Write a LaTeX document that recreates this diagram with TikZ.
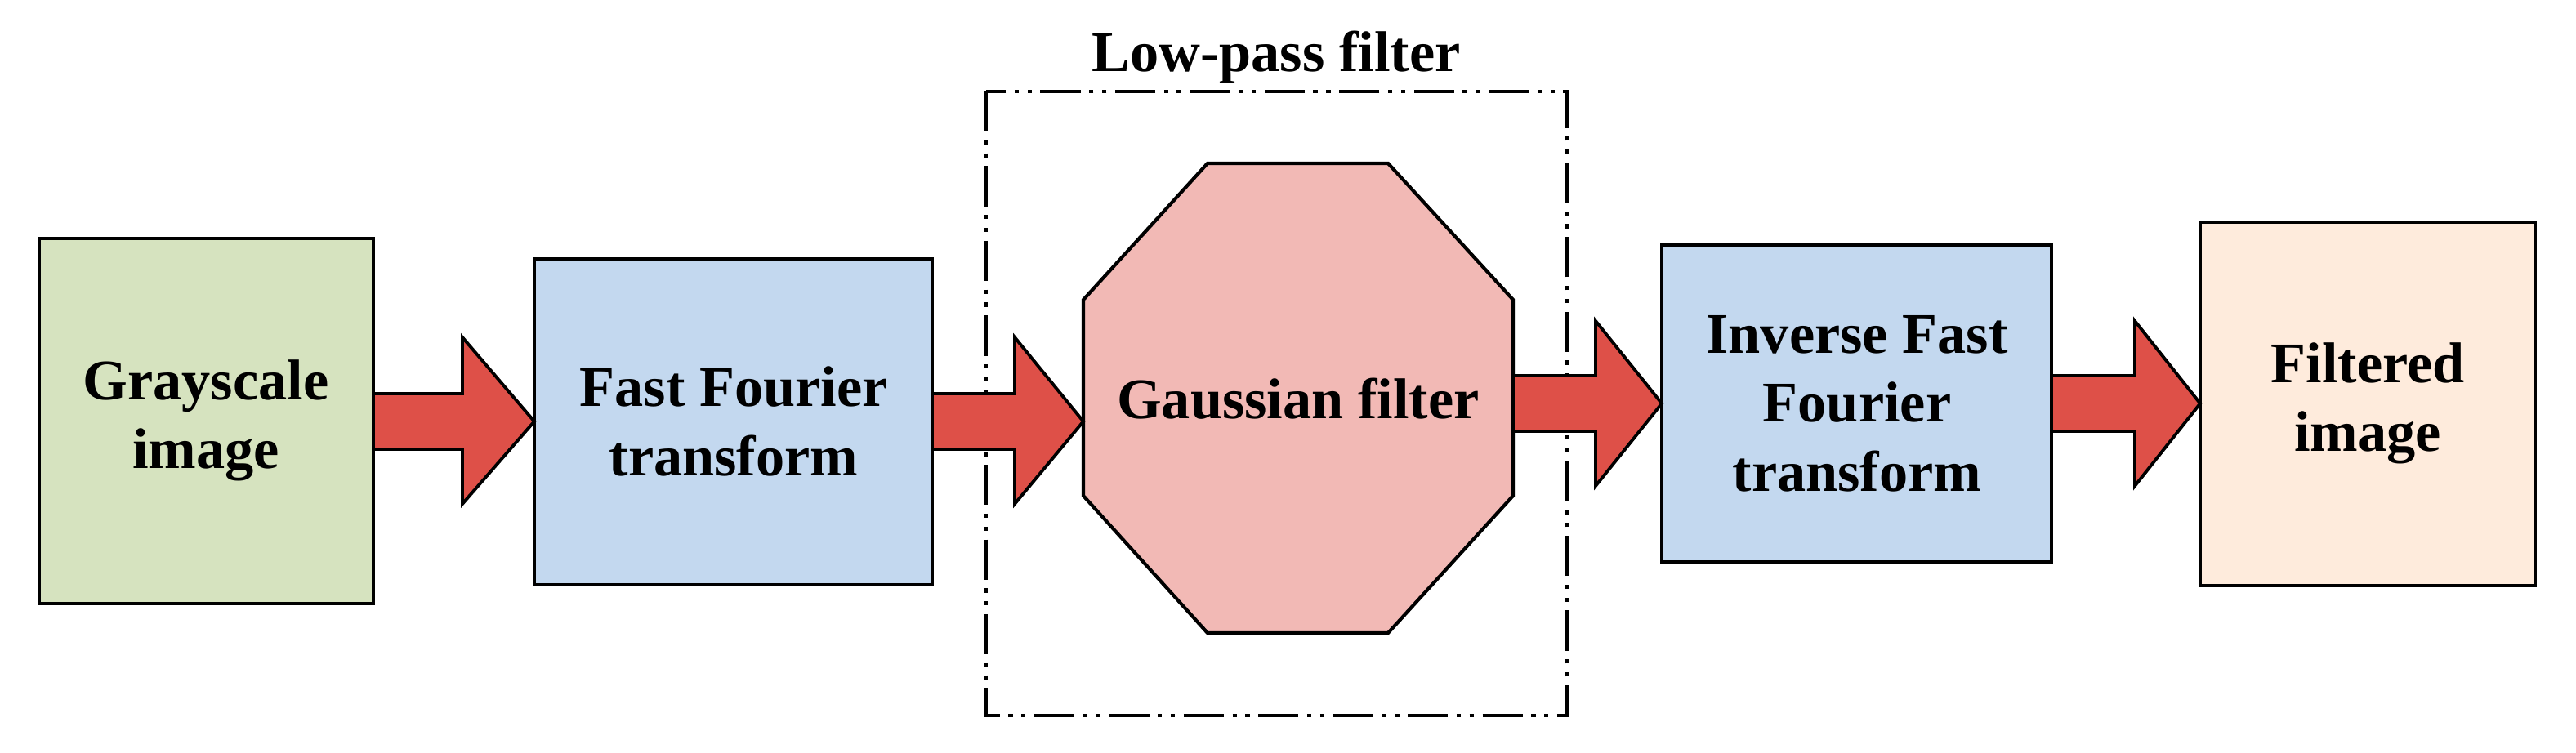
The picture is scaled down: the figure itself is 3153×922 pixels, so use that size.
\documentclass[tikz,border=0pt]{standalone}
\usepackage{fontspec}
\setmainfont{Liberation Serif}
\begin{document}
\begin{tikzpicture}[x=0.01cm,y=-0.01cm,
  blk/.style={draw=black,line width=1.2pt},
  arr/.style={draw=black,line width=1.1pt,fill=arrred,line join=miter},
  lbl/.style={font=\fontsize{20}{24}\selectfont\bfseries,align=center,text=black}]
\definecolor{cgreen}{HTML}{D6E3BF}
\definecolor{cblue}{HTML}{C3D8EF}
\definecolor{cpink}{HTML}{F2B9B5}
\definecolor{cpeach}{HTML}{FEEBDC}
\definecolor{arrred}{HTML}{DE5048}
\useasboundingbox (0,0) rectangle (3153,922);
% dashed group
\draw[line width=1.1pt,dash pattern=on 14pt off 3pt on 1.5pt off 3pt on 1.5pt off 3pt] (1207,112) rectangle (1918,876);
\node[lbl] (title) at (1562,70) {Low-pass filter};
% boxes
\draw[blk,fill=cgreen] (48,292) rectangle (457,739);
\node[lbl] (gray) at (252,515) {Grayscale\\image};
\draw[blk,fill=cblue] (654,317) rectangle (1141,716);
\node[lbl] (fft) at (898,516) {Fast Fourier\\transform};
\draw[blk,fill=cpink] (1478,200) -- (1699,200) -- (1852,367) -- (1852,607) -- (1699,775) -- (1478,775) -- (1326,607) -- (1326,367) -- cycle;
\node[lbl] (gauss) at (1589,488) {Gaussian filter};
\draw[blk,fill=cblue] (2034,300) rectangle (2511,688);
\node[lbl] (ifft) at (2273,494) {Inverse Fast\\Fourier\\transform};
\draw[blk,fill=cpeach] (2693,272) rectangle (3103,717);
\node[lbl] (filt) at (2898,494) {Filtered\\image};
% arrows
\draw[arr] (457,482) -- (566,482) -- (566,413) -- (654,516) -- (566,617) -- (566,550) -- (457,550) -- cycle;
\draw[arr] (1141,482) -- (1242,482) -- (1242,413) -- (1326,516) -- (1242,617) -- (1242,550) -- (1141,550) -- cycle;
\draw[arr] (1852,460) -- (1953,460) -- (1953,393) -- (2034,494) -- (1953,595) -- (1953,528) -- (1852,528) -- cycle;
\draw[arr] (2511,460) -- (2613,460) -- (2613,393) -- (2693,494) -- (2613,595) -- (2613,528) -- (2511,528) -- cycle;
\end{tikzpicture}
\end{document}
